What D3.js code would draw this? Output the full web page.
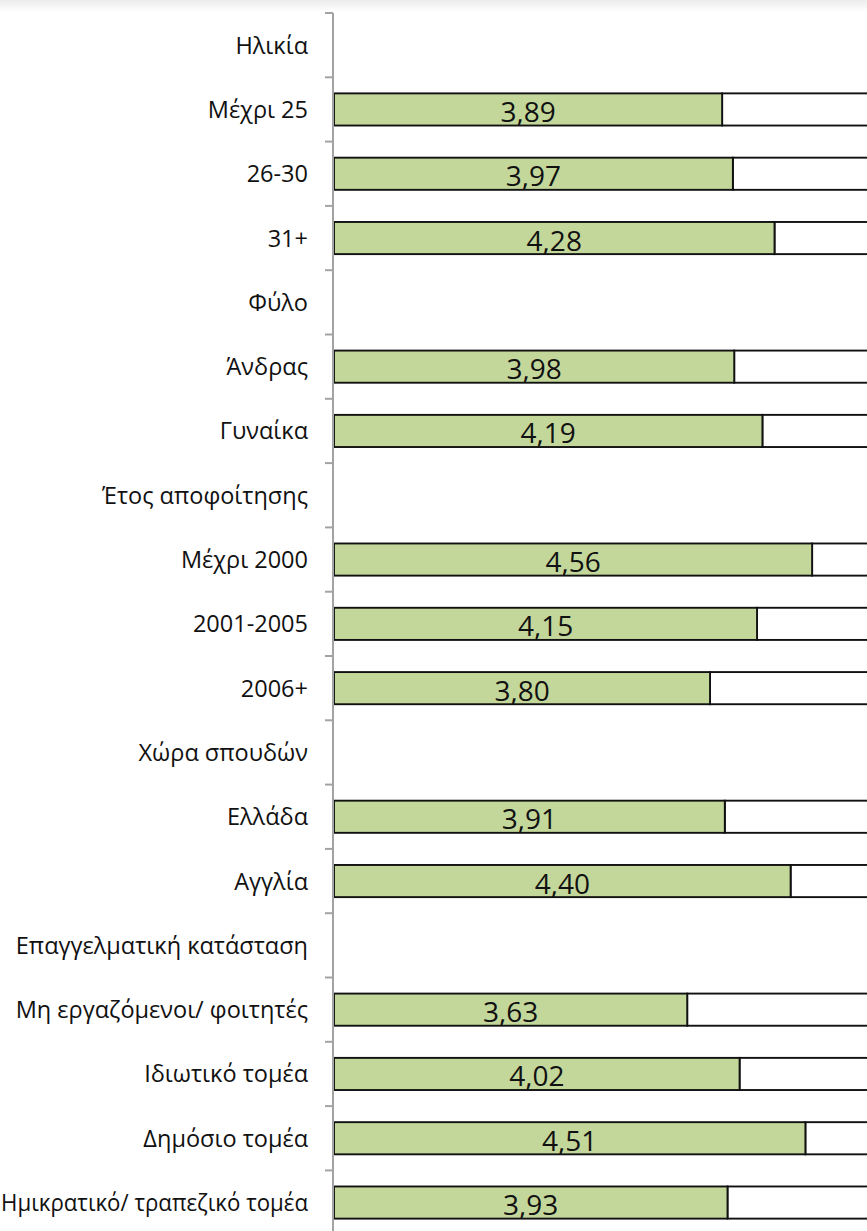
<!DOCTYPE html>
<html>
<head>
<meta charset="utf-8">
<script src="https://cdn.jsdelivr.net/npm/d3@7"></script>
<style>
  html, body { margin: 0; padding: 0; background: #fff; overflow: hidden; }
  svg { display: block; }
</style>
</head>
<body>
<svg id="chart" width="867" height="1231"></svg>
<script>
const categories = [
  "Ηλικία", "Μέχρι 25", "26-30", "31+",
  "Φύλο", "Άνδρας", "Γυναίκα",
  "Έτος αποφοίτησης", "Μέχρι 2000", "2001-2005", "2006+",
  "Χώρα σπουδών", "Ελλάδα", "Αγγλία",
  "Επαγγελματική κατάσταση", "Μη εργαζόμενοι/ φοιτητές", "Ιδιωτικό τομέα", "Δημόσιο τομέα", "Ημικρατικό/ τραπεζικό τομέα"
];
const values = [
  null, 3.89, 3.97, 4.28,
  null, 3.98, 4.19,
  null, 4.56, 4.15, 3.80,
  null, 3.91, 4.40,
  null, 3.63, 4.02, 4.51, 3.93
];
const valueLabels = [
  "", "3,89", "3,97", "4,28",
  "", "3,98", "4,19",
  "", "4,56", "4,15", "3,80",
  "", "3,91", "4,40",
  "", "3,63", "4,02", "4,51", "3,93"
];
const axisDomain = [1, 5];

(function () {
const svg = d3.select("#chart");

// top shading
const defs = svg.append("defs");
const grad = defs.append("linearGradient").attr("id", "topShade")
  .attr("x1", 0).attr("y1", 0).attr("x2", 0).attr("y2", 1);
grad.append("stop").attr("offset", "0%").attr("stop-color", "#ebebeb");
grad.append("stop").attr("offset", "100%").attr("stop-color", "#ffffff");
svg.append("rect").attr("x", 0).attr("y", 0).attr("width", 867).attr("height", 12)
  .attr("fill", "url(#topShade)");

const axisX = 333;
const topY = 13;
const step = 64.3;

const x = d3.scaleLinear().domain(axisDomain).range([334, 334 + 4 * 134.3]);
const y = d3.scaleBand().domain(categories)
  .range([topY, topY + step * categories.length])
  .paddingInner(0.5).paddingOuter(0.25);

const rows = categories.map((c, i) => ({ c, v: values[i], label: valueLabels[i] }));
const bh = y.bandwidth();
const realStep = y.step();

// white remainder bars
svg.append("g").selectAll("rect")
  .data(rows.filter(d => d.v != null))
  .join("rect")
  .attr("x", d => x(d.v))
  .attr("y", d => y(d.c))
  .attr("width", d => x(axisDomain[1]) - x(d.v))
  .attr("height", bh)
  .attr("fill", "#ffffff")
  .attr("stroke", "#111")
  .attr("stroke-width", 1.9);

// green bars
svg.append("g").selectAll("rect")
  .data(rows.filter(d => d.v != null))
  .join("rect")
  .attr("x", x(axisDomain[0]))
  .attr("y", d => y(d.c))
  .attr("width", d => x(d.v) - x(axisDomain[0]))
  .attr("height", bh)
  .attr("fill", "#c4d79b")
  .attr("stroke", "#111")
  .attr("stroke-width", 1.9);

// value labels
svg.append("g").selectAll("text")
  .data(rows.filter(d => d.v != null))
  .join("text")
  .attr("x", d => (x(axisDomain[0]) + x(d.v)) / 2)
  .attr("y", d => y(d.c) + bh / 2 + 12.5)
  .attr("text-anchor", "middle")
  .attr("font-family", "'Open Sans', sans-serif")
  .attr("font-size", 28)
  .attr("fill", "#111")
  .text(d => d.label);

// axis line & ticks
const ag = svg.append("g");
ag.append("line")
  .attr("x1", axisX).attr("x2", axisX)
  .attr("y1", topY).attr("y2", topY + step * categories.length)
  .attr("stroke", "#a3a3a3").attr("stroke-width", 2);
const tickYs = categories.map(c => y(c) - realStep * 0.25);
tickYs.push(y(categories[categories.length - 1]) + bh + realStep * 0.25);
ag.selectAll("line.tick")
  .data(tickYs)
  .join("line")
  .attr("class", "tick")
  .attr("x1", axisX - 8).attr("x2", axisX)
  .attr("y1", d => d).attr("y2", d => d)
  .attr("stroke", "#a3a3a3").attr("stroke-width", 2);

// category labels
const labelRight = 308;
svg.append("g").selectAll("text")
  .data(rows)
  .join("text")
  .attr("x", labelRight)
  .attr("y", d => y(d.c) + bh / 2 + 8.5)
  .attr("text-anchor", "end")
  .attr("font-family", "'Open Sans', sans-serif")
  .attr("font-size", 23.5)
  .attr("fill", "#111")
  .text(d => d.c)
  .each(function () {
    const w = this.getComputedTextLength();
    const maxW = labelRight - 1;
    if (w > maxW) {
      d3.select(this).attr("textLength", maxW).attr("lengthAdjust", "spacingAndGlyphs");
    }
  });
})();
</script>
</body>
</html>
